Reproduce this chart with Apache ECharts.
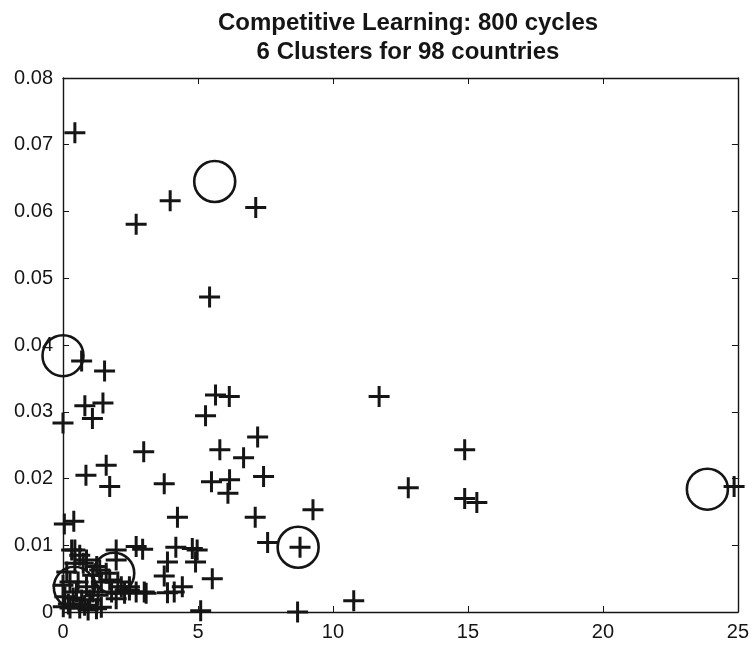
<!DOCTYPE html>
<html>
<head>
<meta charset="utf-8">
<script src="https://cdn.jsdelivr.net/npm/echarts@6/dist/echarts.min.js"></script>
<style>
  html, body { margin: 0; padding: 0; background: #fff; }
  #chart { width: 752px; height: 645px; }
</style>
</head>
<body>
<div id="chart"></div>
<script>
// Country feature vectors (x = first feature, y = second feature)
const countryX = [
  0.44, 2.71, 3.97, 7.14, 5.43, 0.69, 1.54, 0.81, 1.48, 1.09,
  0.00, 2.99, 5.65, 6.16, 5.28, 7.21, 5.81, 6.69, 1.60, 0.85,
  1.73, 3.75, 5.50, 6.17, 6.11, 7.43, 4.24, 7.12, 9.26, 7.58,
  8.78, 8.69, 10.77, 11.71, 14.88, 12.79, 14.88, 15.33, 24.86, 0.05,
  0.40, 4.18, 4.79, 4.97, 4.91, 3.87, 5.53, 3.75, 4.42, 4.12,
  3.87, 3.08, 2.71, 2.46, 5.10, 2.71, 2.95, 1.97, 0.44, 0.32,
  0.62, 0.44, 0.75, 0.87, 1.36, 1.60, 1.97, 1.42, 1.73, 2.03,
  2.16, 2.46, 3.01, 0.26, 0.56, 0.87, 1.11, 0.07, 0.38, 0.69,
  0.99, 0.01, 0.26, 0.62, 0.93, 1.24, 1.42, 0.00, 2.28, 1.25,
  0.14, 1.10, 0.50, 1.30, 1.80, 0.20, 0.80, 1.97
];
const countryY = [
  0.0718, 0.0581, 0.0616, 0.0606, 0.0472, 0.0376, 0.0361, 0.0309, 0.0313, 0.0290,
  0.0283, 0.0240, 0.0325, 0.0323, 0.0294, 0.0262, 0.0243, 0.0231, 0.0220, 0.0205,
  0.0188, 0.0192, 0.0195, 0.0198, 0.0178, 0.0203, 0.0142, 0.0142, 0.0153, 0.0104,
  0.0097, 0.0000, 0.0017, 0.0323, 0.0243, 0.0186, 0.0170, 0.0164, 0.0188, 0.0132,
  0.0136, 0.0097, 0.0095, 0.0093, 0.0075, 0.0075, 0.0050, 0.0054, 0.0038, 0.0030,
  0.0029, 0.0028, 0.0030, 0.0033, 0.0002, 0.0098, 0.0094, 0.0093, 0.0093, 0.0093,
  0.0085, 0.0073, 0.0073, 0.0078, 0.0063, 0.0058, 0.0078, 0.0045, 0.0048, 0.0045,
  0.0038, 0.0038, 0.0030, 0.0045, 0.0045, 0.0038, 0.0030, 0.0023, 0.0021, 0.0018,
  0.0018, 0.0008, 0.0006, 0.0006, 0.0003, 0.0005, 0.0007, 0.0040, 0.0028, 0.0068,
  0.0060, 0.0055, 0.0030, 0.0025, 0.0030, 0.0012, 0.0010, 0.0020
];

// Cluster centres found after training
const centreX = [5.62, 0.00, 8.71, 23.87, 1.88, 0.42];
const centreY = [0.0645, 0.0384, 0.0097, 0.0184, 0.0058, 0.0037];

// Axis ticks
const xTicks = [0, 5, 10, 15, 20, 25];
const yTicks = ['0', '0.01', '0.02', '0.03', '0.04', '0.05', '0.06', '0.07', '0.08'];

const ink = '#151515';
const font = '"Liberation Sans", Arial, Helvetica, sans-serif';

const countries = countryX.map((x, i) => [x, countryY[i]]);
const centres = centreX.map((x, i) => [x, centreY[i]]);

const chart = echarts.init(document.getElementById('chart'), null, { renderer: 'canvas' });

const baseAxis = {
  axisLine: { show: true, onZero: false, lineStyle: { color: ink, width: 1.4 } },
  axisTick: { show: true, inside: true, length: 6, lineStyle: { color: ink, width: 1 } },
  splitLine: { show: false }
};

chart.setOption({
  animation: false,
  backgroundColor: '#ffffff',
  title: {
    text: 'Competitive Learning: 800 cycles\n6 Clusters for 98 countries',
    left: 403,
    top: 4,
    textAlign: 'center',
    textStyle: { fontFamily: font, fontSize: 24, fontWeight: 'bold', color: ink, lineHeight: 29 }
  },
  grid: { left: 63, right: 9, top: 78, bottom: 33 },
  xAxis: [
    Object.assign({}, baseAxis, {
      type: 'value', min: 0, max: 25, interval: 5, position: 'bottom',
      axisLabel: {
        fontFamily: font, fontSize: 20, color: ink, margin: 10,
        formatter: v => String(xTicks[Math.round(v / 5)])
      }
    }),
    Object.assign({}, baseAxis, {
      type: 'value', min: 0, max: 25, interval: 5, position: 'top',
      axisLabel: { show: false }
    })
  ],
  yAxis: [
    Object.assign({}, baseAxis, {
      type: 'value', min: 0, max: 0.08, interval: 0.01, position: 'left',
      axisLabel: {
        fontFamily: font, fontSize: 20, color: ink, margin: 10,
        formatter: v => yTicks[Math.round(v / 0.01)]
      }
    }),
    Object.assign({}, baseAxis, {
      type: 'value', min: 0, max: 0.08, interval: 0.01, position: 'right',
      axisLabel: { show: false }
    })
  ],
  series: [
    {
      name: 'countries',
      type: 'scatter',
      data: countries,
      clip: false,
      symbol: 'path://M0,10 L20,10 M10,0 L10,20',
      symbolSize: 21,
      itemStyle: { color: 'none', borderColor: ink, borderWidth: 3, opacity: 1 },
      emphasis: { disabled: true }
    },
    {
      name: 'centres',
      type: 'scatter',
      data: centres,
      clip: false,
      symbol: 'circle',
      symbolSize: 41,
      itemStyle: { color: 'rgba(0,0,0,0)', borderColor: ink, borderWidth: 2.6, opacity: 1 },
      emphasis: { disabled: true }
    }
  ]
});
</script>
</body>
</html>
